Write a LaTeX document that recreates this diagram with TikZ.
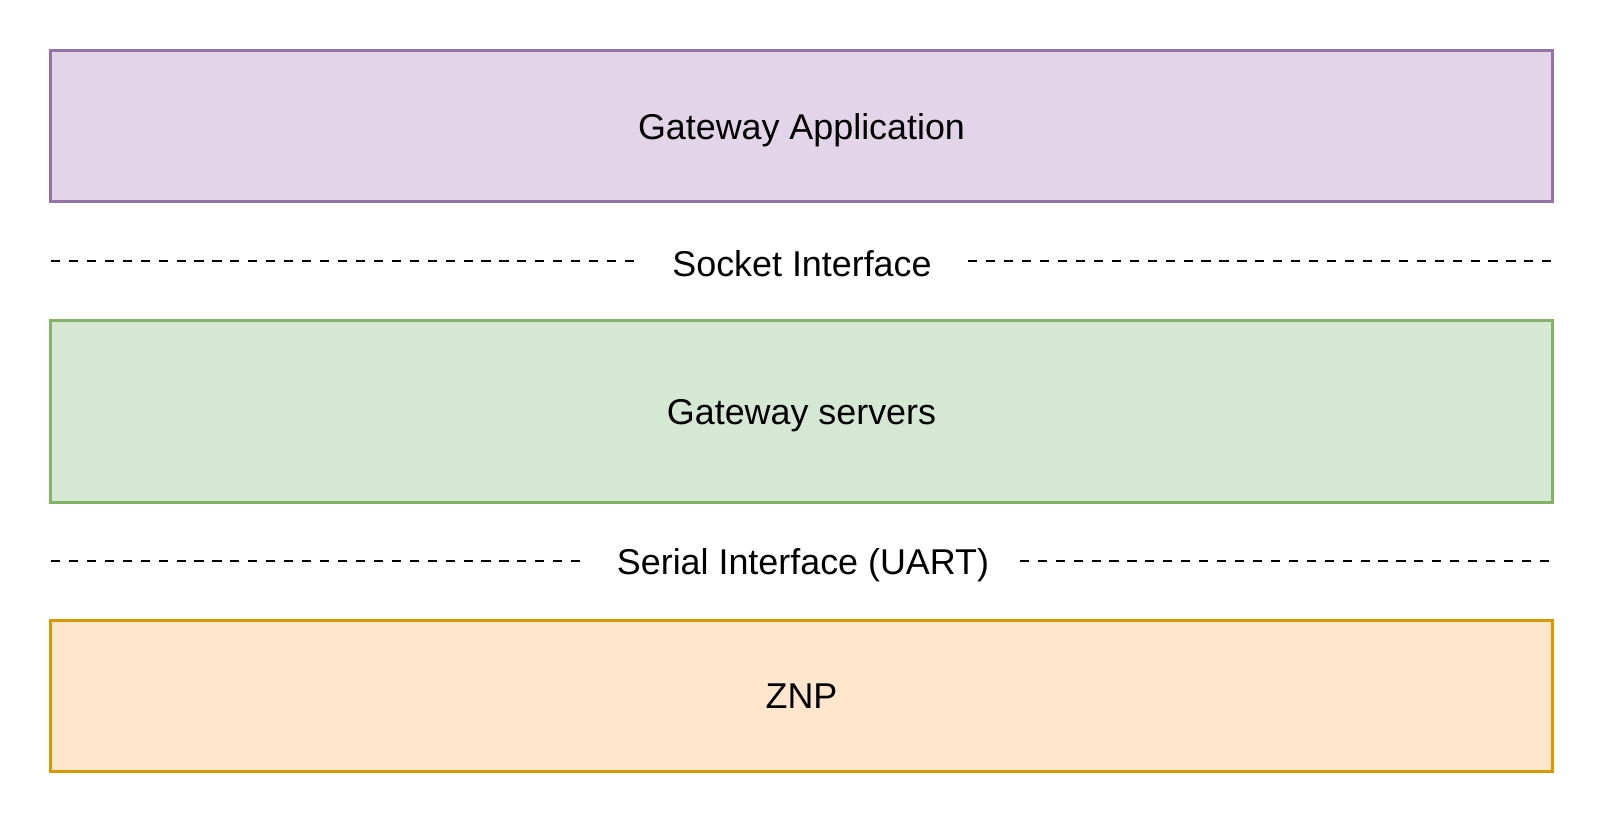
\documentclass[tikz,border=0pt]{standalone}
\usepackage{fontspec}
\setmainfont{Liberation Sans}
\usepackage{xcolor}
\usetikzlibrary{positioning}

\definecolor{appfill}{HTML}{E1D5E7}
\definecolor{appdraw}{HTML}{9673A6}
\definecolor{srvfill}{HTML}{D5E8D4}
\definecolor{srvdraw}{HTML}{82B366}
\definecolor{znpfill}{HTML}{FFE6CC}
\definecolor{znpdraw}{HTML}{D79B00}

\begin{document}
\begin{tikzpicture}[
    x=0.01cm, y=-0.01cm,
    layer/.style  = {rectangle, draw, line width=0.85pt, minimum width=15.01cm,
                     minimum height=1.5cm, align=center, text depth=0pt,
                     font=\fontsize{10.2}{12}\selectfont},
    iface/.style  = {inner xsep=0.36cm, inner ysep=0pt, text depth=0pt,
                     font=\fontsize{10.2}{12}\selectfont},
    sep/.style    = {line width=0.75pt, dash pattern=on 2.6pt off 2.5pt},
  ]
  \useasboundingbox (0,0) rectangle (1606,826);

  \node[layer, fill=appfill, draw=appdraw] (gw_app) at (801.5,126) {Gateway Application};
  \node[layer, fill=srvfill, draw=srvdraw, minimum height=1.81cm]
        (gw_srv) at (801.5,411.5) {Gateway servers};
  \node[layer, fill=znpfill, draw=znpdraw] (znp) at (801.5,696) {ZNP};

  \node[iface] (sock) at (802,263) {Socket Interface};
  \node[iface, inner xsep=0.3cm] (uart) at (803,561) {Serial Interface (UART)};

  \coordinate (sock_l) at (51,261);
  \coordinate (sock_r) at (1552,261);
  \coordinate (uart_l) at (51,561);
  \coordinate (uart_r) at (1552,561);

  \draw[sep] (sock_l) -- (sock.west |- sock_l);
  \draw[sep] (sock.east |- sock_r) -- (sock_r);
  \draw[sep] (uart_l) -- (uart.west);
  \draw[sep] (uart.east) -- (uart_r);
\end{tikzpicture}
\end{document}
